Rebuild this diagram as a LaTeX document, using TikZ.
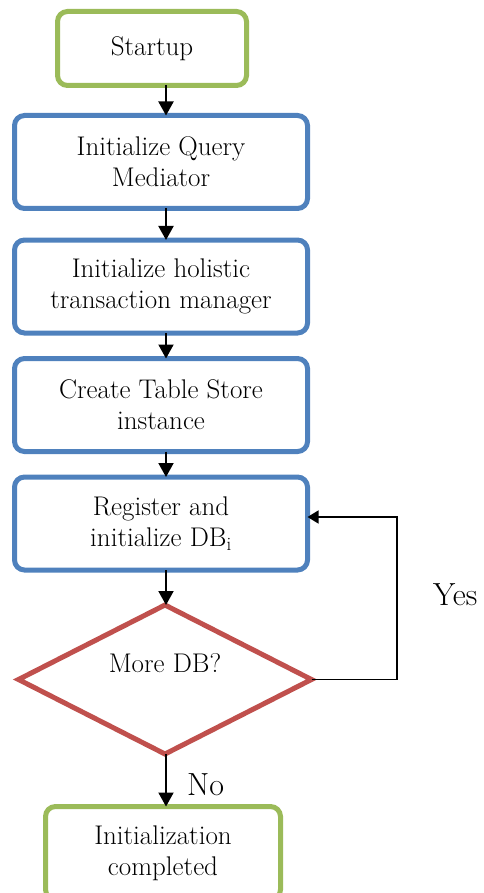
\documentclass[tikz,border=0pt]{standalone}
\usepackage{fontspec}
\usetikzlibrary{shapes.geometric,arrows.meta}
\definecolor{stepgreen}{RGB}{155,187,89}
\definecolor{stepblue}{RGB}{79,129,189}
\definecolor{stepred}{RGB}{192,80,77}

\begin{document}
\begin{tikzpicture}[x=1pt,y=-1pt,
  box/.style={draw, line width=5pt, rounded corners=10pt, inner sep=0pt, outer sep=0pt,
    align=center, font=\fontsize{27}{31}\selectfont},
  endbox/.style={box, draw=stepgreen},
  stepbox/.style={box, draw=stepblue, minimum width=293pt, minimum height=93pt},
  choice/.style={diamond, draw=stepred, line width=5pt, inner sep=0pt, outer sep=0pt,
    minimum width=293pt, minimum height=149pt, font=\fontsize{27}{31}\selectfont},
  arr/.style={line width=2pt, -{Triangle[width=15pt,length=14pt]}},
  thinarr/.style={line width=1.5pt, -{Triangle[width=13pt,length=11pt]}},
  lbl/.style={font=\fontsize{32}{36}\selectfont, inner sep=0pt}]
  \clip (0,0) rectangle (483,893);

  %% steps
  \node[endbox, minimum width=189pt, minimum height=74pt] (start) at (152,48.5) {Startup};
  \node[stepbox] (qmed) at (161,162) {Initialize Query\\Mediator};
  \node[stepbox] (htm) at (161,286.5) {Initialize holistic\\transaction manager};
  \node[stepbox] (tstore) at (161,405) {Create Table Store\\instance};
  \node[stepbox] (regdb) at (161,523.5) {Register and\\initialize DB\textsubscript{i}};

  %% decision
  \node[choice] (moredb) at (165,679.5) {\smash{\raisebox{7.5pt}{More DB?}}};
  \node[endbox, minimum width=235pt, minimum height=93pt] (done) at (163,853) {Initialization\\completed};

  \coordinate (spine) at (166,0);
  \coordinate (turn) at (397,517);

  %% arrows
  \draw[arr] (start.south -| spine) -- (qmed.north -| spine);
  \draw[arr] (qmed.south -| spine) -- (htm.north -| spine);
  \draw[arr] (htm.south -| spine) -- (tstore.north -| spine);
  \draw[arr] (tstore.south -| spine) -- (regdb.north -| spine);
  \draw[arr] (regdb.south -| spine) -- (moredb.north -| spine);
  \draw[arr] (moredb.south -| spine) -- (done.north -| spine);
  \draw[thinarr] (moredb.east) -| (turn) -- (turn -| regdb.east);

  %% labels
  \node[lbl, anchor=base west] (yes) at (433,605) {Yes};
  \node[lbl, anchor=base west] (no) at (187,795) {No};

\end{tikzpicture}
\end{document}
